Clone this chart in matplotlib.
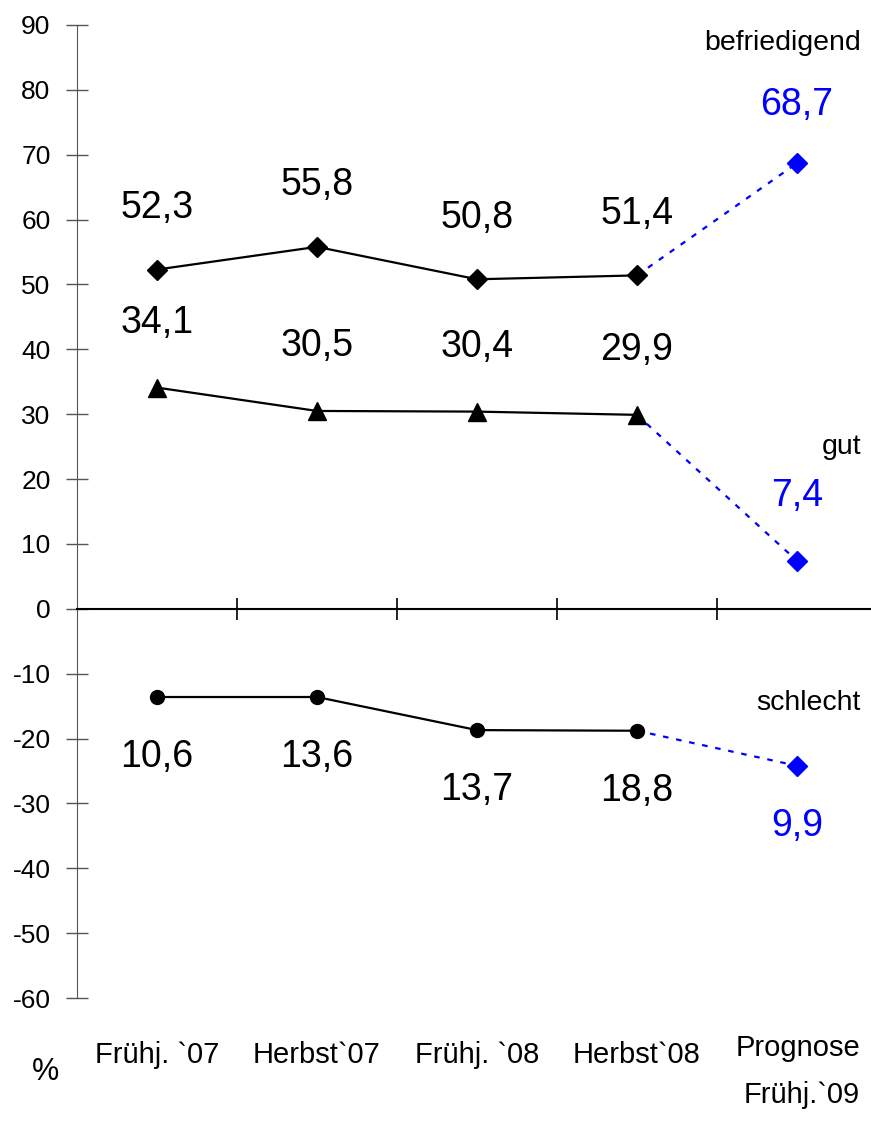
"""
Umfrage-Verlauf: befriedigend / gut / schlecht mit Prognose
"""

import matplotlib
matplotlib.use("Agg")
import matplotlib.pyplot as plt
import matplotlib.transforms as mtransforms

plt.rcParams['font.family'] = ['Liberation Sans Narrow', 'Liberation Sans', 'DejaVu Sans']
plt.rcParams['axes.unicode_minus'] = False

categories = ["Frühj. `07", "Herbst`07", "Frühj. `08", "Herbst`08", "Prognose\nFrühj.`09"]

# plotted values (schlecht is drawn below zero)
befriedigend = [52.3, 55.8, 50.8, 51.4]
befriedigend_prog = 68.7
gut = [34.1, 30.5, 30.4, 29.9]
gut_prog = 7.4
schlecht = [-13.6, -13.6, -18.7, -18.8]
schlecht_prog = -24.2

# labels as printed in the chart
befriedigend_labels = ["52,3", "55,8", "50,8", "51,4"]
gut_labels = ["34,1", "30,5", "30,4", "29,9"]
schlecht_labels = ["10,6", "13,6", "13,7", "18,8"]
prog_labels = ["68,7", "7,4", "9,9"]

BLUE = "#0000ff"

fig = plt.figure(figsize=(8.71, 11.24), dpi=100)
ax = fig.add_axes([77 / 871, 1 - 998 / 1124, 800 / 871, (998 - 25) / 1124])

x = list(range(4))
xp = 4

series = [
    (befriedigend, befriedigend_prog, "D", 10, befriedigend_labels, 9.5),
    (gut, gut_prog, "^", 13, gut_labels, 10),
    (schlecht, schlecht_prog, "o", 10, schlecht_labels, -9.3),
]
for vals, prog, marker, ms, labels, off in series:
    ax.plot(x, vals, color="black", lw=1.6, marker=marker, markersize=ms, zorder=3)
    ax.plot([x[-1], xp], [vals[-1], prog], color=BLUE, lw=1.6,
            linestyle=(0, (2.5, 3.5)), zorder=2)
    ax.plot([xp], [prog], color=BLUE, marker="D", markersize=10, zorder=3)
    for xi, v, lab in zip(x, vals, labels):
        ax.text(xi, v + off, lab, ha="center", va="center", fontsize=27)

# prognosis labels
ax.text(xp, befriedigend_prog + 9, prog_labels[0], ha="center", va="center",
        fontsize=27, color=BLUE)
ax.text(xp, gut_prog + 10, prog_labels[1], ha="center", va="center",
        fontsize=27, color=BLUE)
ax.text(xp, schlecht_prog - 9.3, prog_labels[2], ha="center", va="center",
        fontsize=27, color=BLUE)

# series names
ax.text(4.4, 87.3, "befriedigend", ha="right", va="center", fontsize=20.5)
ax.text(4.4, 25, "gut", ha="right", va="center", fontsize=20.5)
ax.text(4.4, -14.5, "schlecht", ha="right", va="center", fontsize=20.5)

ax.set_xlim(-0.5, 4.5)
ax.set_ylim(-60, 90)
ax.set_yticks(range(-60, 91, 10))
ax.tick_params(axis="y", direction="inout", length=16, width=1, labelsize=19,
               pad=11, color="#555555")
ax.set_xticks([0.5, 1.5, 2.5, 3.5])
ax.set_xticklabels([])
ax.tick_params(axis="x", direction="inout", length=16, width=1.2)

ax.spines["top"].set_visible(False)
ax.spines["right"].set_visible(False)
ax.spines["left"].set_color("#555555")
ax.spines["bottom"].set_position(("data", 0))
ax.spines["bottom"].set_linewidth(1.5)
ax.spines["left"].set_bounds(-60, 90)

trans = mtransforms.blended_transform_factory(ax.transData, fig.transFigure)
for i, c in enumerate(categories[:-1]):
    ax.text(i, 1 - 1055 / 1124, c, transform=trans, ha="center", va="center",
            fontsize=21)
fig.text(860 / 871, 1 - 1034 / 1124, categories[-1], ha="right", va="top",
         multialignment="right", fontsize=21, linespacing=1.85)
fig.text(45 / 871, 1 - 1072 / 1124, "%", ha="center", va="center", fontsize=22)

fig.savefig("out.png", dpi=100)
